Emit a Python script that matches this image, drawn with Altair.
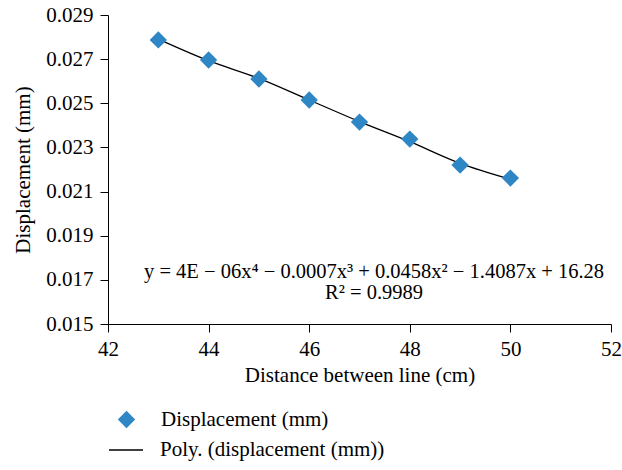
import altair as alt
import pandas as pd

distance = [43, 44, 45, 46, 47, 48, 49, 50]
displacement = [0.02787, 0.02696, 0.0261, 0.02515, 0.02415, 0.02338, 0.0222, 0.02161]
trend_y = [0.02791, 0.02693, 0.02613, 0.02515, 0.02417, 0.02326, 0.02228, 0.02156]

x_ticks = [42, 44, 46, 48, 50, 52]
y_ticks = [0.015, 0.017, 0.019, 0.021, 0.023, 0.025, 0.027, 0.029]

eq_text = ["y = 4E − 06x⁴ − 0.0007x³ + 0.0458x² − 1.4087x + 16.28", "R² = 0.9989"]
eq_x = [47.29, 47.29]
eq_y = [0.01736, 0.01640]

FONT = "Liberation Serif"
BLUE = "#2E86C4"
FS = 21

pts = pd.DataFrame({"x": distance, "y": displacement, "s": "Displacement (mm)"})
trend = pd.DataFrame({"x": distance, "y": trend_y, "s": "Poly. (displacement (mm))"})
eq = pd.DataFrame({"x": eq_x, "y": eq_y, "t": eq_text})

xsc = alt.Scale(domain=[42, 52], nice=False, zero=False)
ysc = alt.Scale(domain=[0.015, 0.029], nice=False, zero=False)

xax = alt.Axis(values=x_ticks, title="Distance between line (cm)", grid=False,
               labelFlush=False, format="d", labelPadding=6, titlePadding=5)
yax = alt.Axis(values=y_ticks, title="Displacement (mm)", grid=False, format=".3f",
               labelPadding=7, titlePadding=12)

line = alt.Chart(trend).mark_line(interpolate="monotone", strokeWidth=1.3).encode(
    x=alt.X("x:Q", scale=xsc, axis=xax),
    y=alt.Y("y:Q", scale=ysc, axis=yax),
    color=alt.Color("s:N", scale=alt.Scale(domain=["Poly. (displacement (mm))"], range=["black"]),
                    legend=alt.Legend(title=None, orient="none", legendX=0, legendY=417,
                                      symbolType="stroke", symbolSize=1156, symbolStrokeWidth=1.3,
                                      labelOffset=16, labelLimit=500)),
)

points = alt.Chart(pts).mark_point(shape="diamond", filled=True, size=300, color=BLUE, opacity=1).encode(
    x=alt.X("x:Q", scale=xsc),
    y=alt.Y("y:Q", scale=ysc),
    shape=alt.Shape("s:N", scale=alt.Scale(domain=["Displacement (mm)"], range=["diamond"]),
                    legend=alt.Legend(title=None, orient="none", legendX=8, legendY=394,
                                      symbolFillColor=BLUE, symbolStrokeWidth=0, symbolSize=300,
                                      symbolOpacity=1, labelOffset=24, labelLimit=500)),
)

eq_layer = alt.Chart(eq).mark_text(font=FONT, fontSize=20.5, align="center", baseline="middle",
                                   color="black").encode(
    x=alt.X("x:Q", scale=xsc), y=alt.Y("y:Q", scale=ysc), text="t:N"
)

chart = alt.layer(line, points, eq_layer).resolve_legend(color="independent", shape="independent").properties(
    width=503, height=309,
    autosize=alt.AutoSizeParams(type="none"),
    padding={"left": 108, "top": 15, "right": 11, "bottom": 146},
).configure_view(stroke=None).configure_axis(
    domainColor="black", tickColor="black", tickSize=8, labelFont=FONT, titleFont=FONT,
    labelFontSize=FS, titleFontSize=FS, titleFontWeight="normal", labelColor="black",
    titleColor="black",
).configure_legend(
    labelFont=FONT, labelFontSize=FS, labelColor="black"
)

chart.save("out.html", embed_options={"renderer": "svg", "actions": False})
